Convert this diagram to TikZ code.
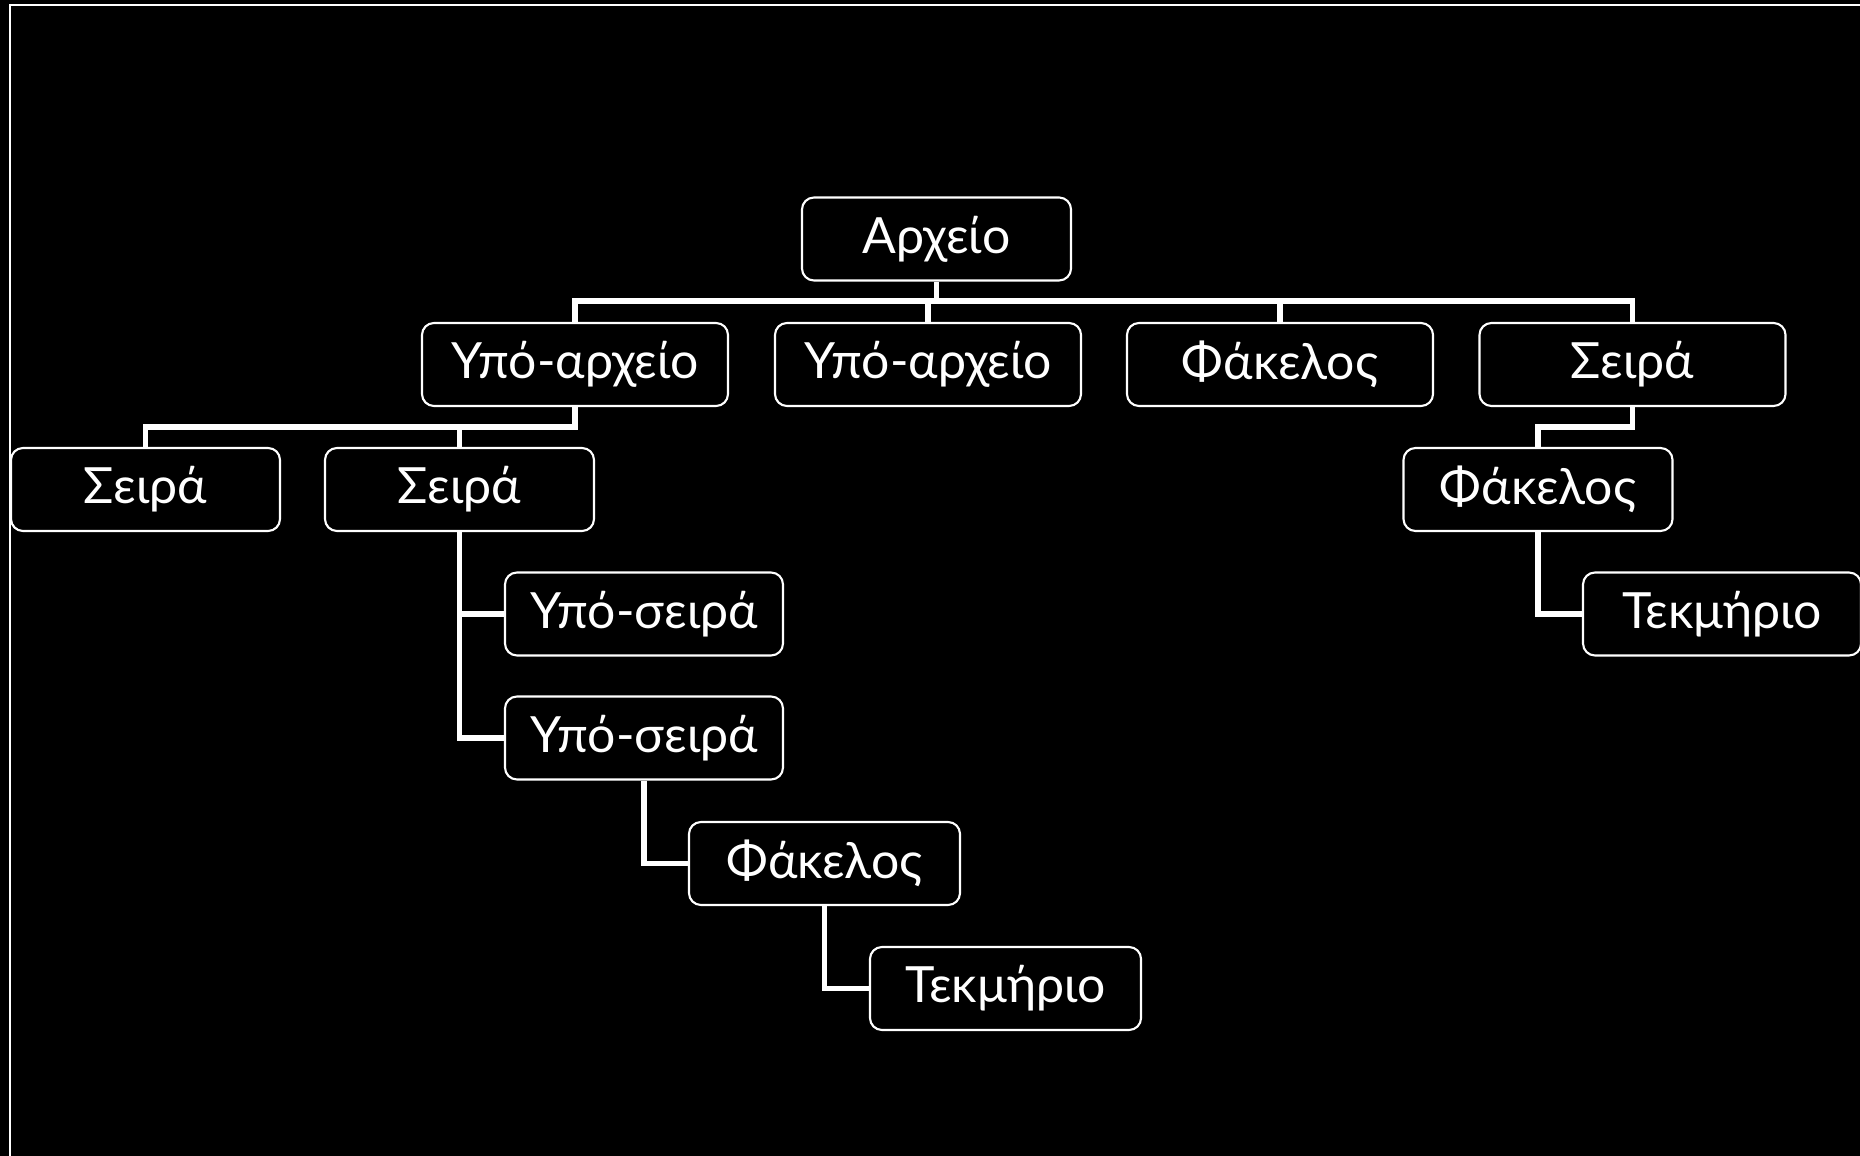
\documentclass[tikz,border=0pt]{standalone}
\usepackage{fontspec}
\setmainfont{Lato}
\usepackage{tikz}

\begin{document}
\begin{tikzpicture}[
  box/.style={draw=white, fill=black, text=white, line width=0.6pt, rounded corners=3.4pt,
    minimum height=0.83cm, inner sep=0pt, font=\fontsize{14.2}{17}\selectfont},
  link/.style={draw=white, line width=1.6pt},
  ]
\fill[black] (0,0) rectangle (18.6,-11.56);
\useasboundingbox (0,0) rectangle (18.6,-11.56);
\draw[white, line width=0.6pt] (0.10,-12) -- (0.10,-0.05) -- (19,-0.05);

\node[box, minimum width=2.69cm] (arch) at (9.365,-2.39) {Αρχείο};

\node[box, minimum width=3.06cm] (subA) at (5.75,-3.645) {Υπό-αρχείο};
\node[box, minimum width=3.06cm] (subB) at (9.28,-3.645) {Υπό-αρχείο};
\node[box, minimum width=3.06cm] (fakA) at (12.80,-3.645) {Φάκελος};
\node[box, minimum width=3.06cm] (serA) at (16.325,-3.645) {Σειρά};

\node[box, minimum width=2.69cm] (serB) at (1.455,-4.895) {Σειρά};
\node[box, minimum width=2.69cm] (serC) at (4.595,-4.895) {Σειρά};
\node[box, minimum width=2.69cm] (fakB) at (15.38,-4.895) {Φάκελος};

\node[box, minimum width=2.78cm] (subsA) at (6.44,-6.14) {Υπό-σειρά};
\node[box, minimum width=2.78cm] (tekA) at (17.22,-6.14) {Τεκμήριο};
\node[box, minimum width=2.78cm] (subsB) at (6.44,-7.38) {Υπό-σειρά};

\node[box, minimum width=2.71cm] (fakC) at (8.245,-8.635) {Φάκελος};
\node[box, minimum width=2.71cm] (tekB) at (10.055,-9.885) {Τεκμήριο};

\coordinate (bus1) at (0,-3.01);
\coordinate (bus2) at (0,-4.27);

% top level
\draw[link] (arch.south) -- (arch.south |- bus1);
\draw[link] (subA.north) -- (subA.north |- bus1) -- (serA.north |- bus1) -- (serA.north);
\foreach \n in {subB, fakA}
  \draw[link] (\n.north) -- (\n.north |- bus1);

% second level
\draw[link] (subA.south) -- (subA.south |- bus2) -- (serB.north |- bus2) -- (serB.north);
\draw[link] (serC.north) -- (serC.north |- bus2);
\draw[link] (serA.south) -- (serA.south |- bus2) -- (fakB.north |- bus2) -- (fakB.north);

% lower levels
\draw[link] (serC.south) |- (subsA.west);
\draw[link] (serC.south) |- (subsB.west);
\draw[link] (subsB.south) |- (fakC.west);
\draw[link] (fakC.south) |- (tekB.west);
\draw[link] (fakB.south) |- (tekA.west);

\end{tikzpicture}
\end{document}
